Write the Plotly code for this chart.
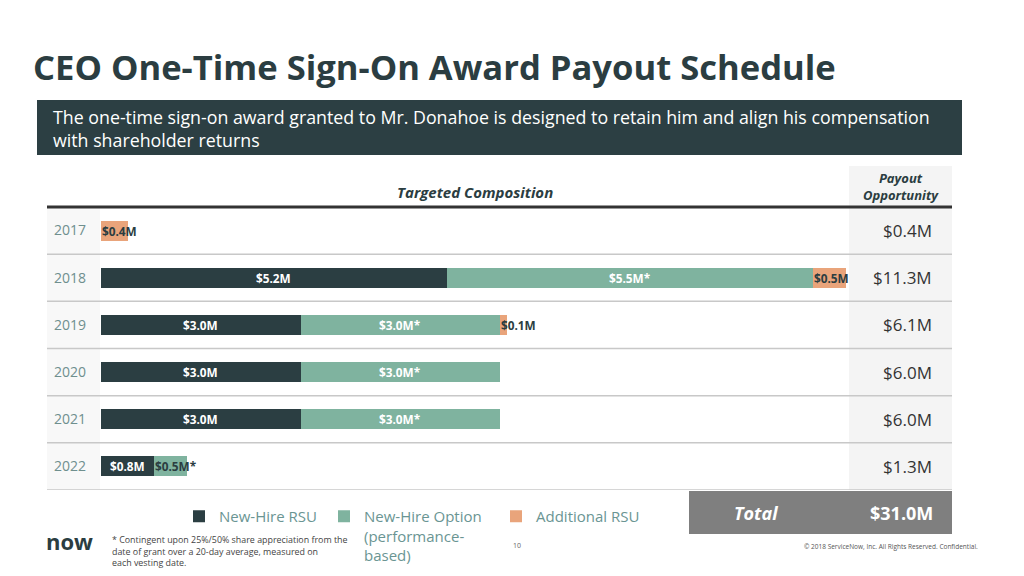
import plotly.graph_objects as go

# data
years = ["2017", "2018", "2019", "2020", "2021", "2022"]
new_hire_rsu = [0, 5.2, 3.0, 3.0, 3.0, 0.8]
new_hire_option = [0, 5.5, 3.0, 3.0, 3.0, 0.5]
additional_rsu = [0.4, 0.5, 0.1, 0, 0, 0]
payout = [0.4, 11.3, 6.1, 6.0, 6.0, 1.3]
total_payout = 31.0

series = [
    ("New-Hire RSU", new_hire_rsu, "#2b3e42", "", "legend"),
    ("New-Hire Option<br>(performance-<br>based)", new_hire_option, "#7fb39f", "*", "legend2"),
    ("Additional RSU", additional_rsu, "#e9a47b", "", "legend3"),
]

W, H = 1024, 576
L, R, T, B = 101, 952, 207, 490   # plot area in pixels
PX_PER_M = 66.5
FONT = "Open Sans"
DARK = "#2b3d41"


def px(x):
    return (x - L) / (R - L)


def py(y):
    return (B - y) / (B - T)


fig = go.Figure()

for name, vals, color, star, leg in series:
    fig.add_trace(go.Bar(
        y=years, x=vals, name=name, orientation="h",
        marker=dict(color=color, line=dict(width=0)),
        legend=leg, hoverinfo="skip",
    ))

annotations = []
shapes = []

# bar segment labels (y given as category index)
base = [0.0] * len(years)
for name, vals, color, star, leg in series:
    for i, v in enumerate(vals):
        if v > 0:
            label = f"${v:.1f}M{star}"
            if v <= 0.5:
                annotations.append(dict(
                    x=base[i], y=i, xref="x", yref="y", text=label,
                    showarrow=False, xanchor="left", xshift=-1,
                    font=dict(family=FONT, size=11.8, color=DARK, weight="bold")))
            else:
                annotations.append(dict(
                    x=base[i] + v / 2, y=i, xref="x", yref="y", text=label,
                    showarrow=False, xanchor="center",
                    font=dict(family=FONT, size=11.8, color="white", weight="bold")))
            base[i] += v

# payout column values
for i, p in enumerate(payout):
    annotations.append(dict(
        x=px(934), y=i, xref="paper", yref="y", text=f"${p:.1f}M",
        showarrow=False, xanchor="right",
        font=dict(family=FONT, size=17, color="#333333")))

# background blocks
shapes.append(dict(type="rect", xref="paper", yref="paper", layer="below",
                   x0=px(37), x1=px(962), y0=py(155), y1=py(100),
                   fillcolor="#2c3f43", line=dict(width=0)))
shapes.append(dict(type="rect", xref="paper", yref="paper", layer="below",
                   x0=px(849), x1=px(952), y0=py(490), y1=py(166),
                   fillcolor="#f4f4f4", line=dict(width=0)))
shapes.append(dict(type="rect", xref="paper", yref="paper", layer="below",
                   x0=px(47), x1=px(100), y0=py(490), y1=py(207),
                   fillcolor="#f8f8f8", line=dict(width=0)))
for k in range(len(years)):
    shapes.append(dict(type="line", xref="paper", yref="y", layer="below",
                       x0=px(47), x1=px(952), y0=k + 0.5, y1=k + 0.5,
                       line=dict(color="#c8c8c8", width=1.5)))
shapes.append(dict(type="line", xref="paper", yref="paper",
                   x0=px(47), x1=px(952), y0=py(207), y1=py(207),
                   line=dict(color="#333333", width=3)))
shapes.append(dict(type="rect", xref="paper", yref="paper",
                   x0=px(689), x1=px(952), y0=py(534), y1=py(491),
                   fillcolor="#7f7f7f", line=dict(width=0)))

# text blocks
annotations += [
    dict(x=px(31), y=py(66), xref="paper", yref="paper", text="CEO One-Time Sign-On Award Payout Schedule",
         showarrow=False, xanchor="left", yanchor="middle",
         font=dict(family=FONT, size=34.6, color=DARK, weight="bold")),
    dict(x=px(51), y=py(128), xref="paper", yref="paper",
         text="The one-time sign-on award granted to Mr. Donahoe is designed to retain him and align his compensation<br>with shareholder returns",
         showarrow=False, xanchor="left", yanchor="middle", align="left",
         font=dict(family=FONT, size=17.8, color="white")),
    dict(x=px(475), y=py(192), xref="paper", yref="paper", text="<i>Targeted Composition</i>",
         showarrow=False, xanchor="center", yanchor="middle",
         font=dict(family=FONT, size=15, color=DARK, weight="bold")),
    dict(x=px(901), y=py(187), xref="paper", yref="paper", text="<i>Payout<br>Opportunity</i>",
         showarrow=False, xanchor="center", yanchor="middle",
         font=dict(family=FONT, size=13, color=DARK, weight="bold")),
    dict(x=px(756), y=py(513), xref="paper", yref="paper", text="<i>Total</i>",
         showarrow=False, xanchor="center", yanchor="middle",
         font=dict(family=FONT, size=18, color="white", weight="bold")),
    dict(x=px(935), y=py(513), xref="paper", yref="paper", text=f"${total_payout:.1f}M",
         showarrow=False, xanchor="right", yanchor="middle",
         font=dict(family=FONT, size=18, color="white", weight="bold")),
    dict(x=px(44), y=py(541), xref="paper", yref="paper", text="now",
         showarrow=False, xanchor="left", yanchor="middle",
         font=dict(family=FONT, size=22, color=DARK, weight="bold")),
    dict(x=px(110), y=py(551), xref="paper", yref="paper",
         text="* Contingent upon 25%/50% share appreciation from the<br>date of grant over a 20-day average, measured on<br>each vesting date.",
         showarrow=False, xanchor="left", yanchor="middle", align="left",
         font=dict(family=FONT, size=8.9, color="#444444")),
    dict(x=px(511), y=py(545), xref="paper", yref="paper", text="10",
         showarrow=False, xanchor="left", yanchor="middle",
         font=dict(family=FONT, size=7, color="#666666")),
    dict(x=px(980), y=py(546), xref="paper", yref="paper",
         text="© 2018 ServiceNow, Inc. All Rights Reserved. Confidential.",
         showarrow=False, xanchor="right", yanchor="middle",
         font=dict(family=FONT, size=6.5, color="#555555")),
]

legend_style = dict(orientation="h", xanchor="left", yanchor="top", bgcolor="rgba(0,0,0,0)",
                    font=dict(family=FONT, size=15, color="#6a9593"), itemwidth=30,
                    valign="top", tracegroupgap=0, itemclick=False)

fig.update_layout(
    width=W, height=H,
    margin=dict(l=L, r=W - R, t=T, b=H - B, pad=0, autoexpand=False),
    paper_bgcolor="white", plot_bgcolor="rgba(0,0,0,0)",
    barmode="stack", bargap=0.576,
    showlegend=True,
    legend=dict(x=px(179), y=py(500), **legend_style),
    legend2=dict(x=px(324), y=py(500), **legend_style),
    legend3=dict(x=px(496), y=py(500), **legend_style),
    xaxis=dict(range=[0, (R - L) / PX_PER_M], visible=False, fixedrange=True),
    yaxis=dict(type="category", categoryorder="array", categoryarray=years,
               range=[len(years) - 0.5, -0.5], fixedrange=True,
               showgrid=False, zeroline=False, showline=False, ticks="",
               ticklabelstandoff=14, tickfont=dict(family=FONT, size=14, color="#6f8f8e")),
    shapes=shapes,
    annotations=annotations,
    font=dict(family=FONT),
)

# page body has a default 8px margin; remove it so the figure sits at the window's corner
fig.write_html("out.html", config={"displayModeBar": False},
               post_script="document.body.style.margin='0';")
